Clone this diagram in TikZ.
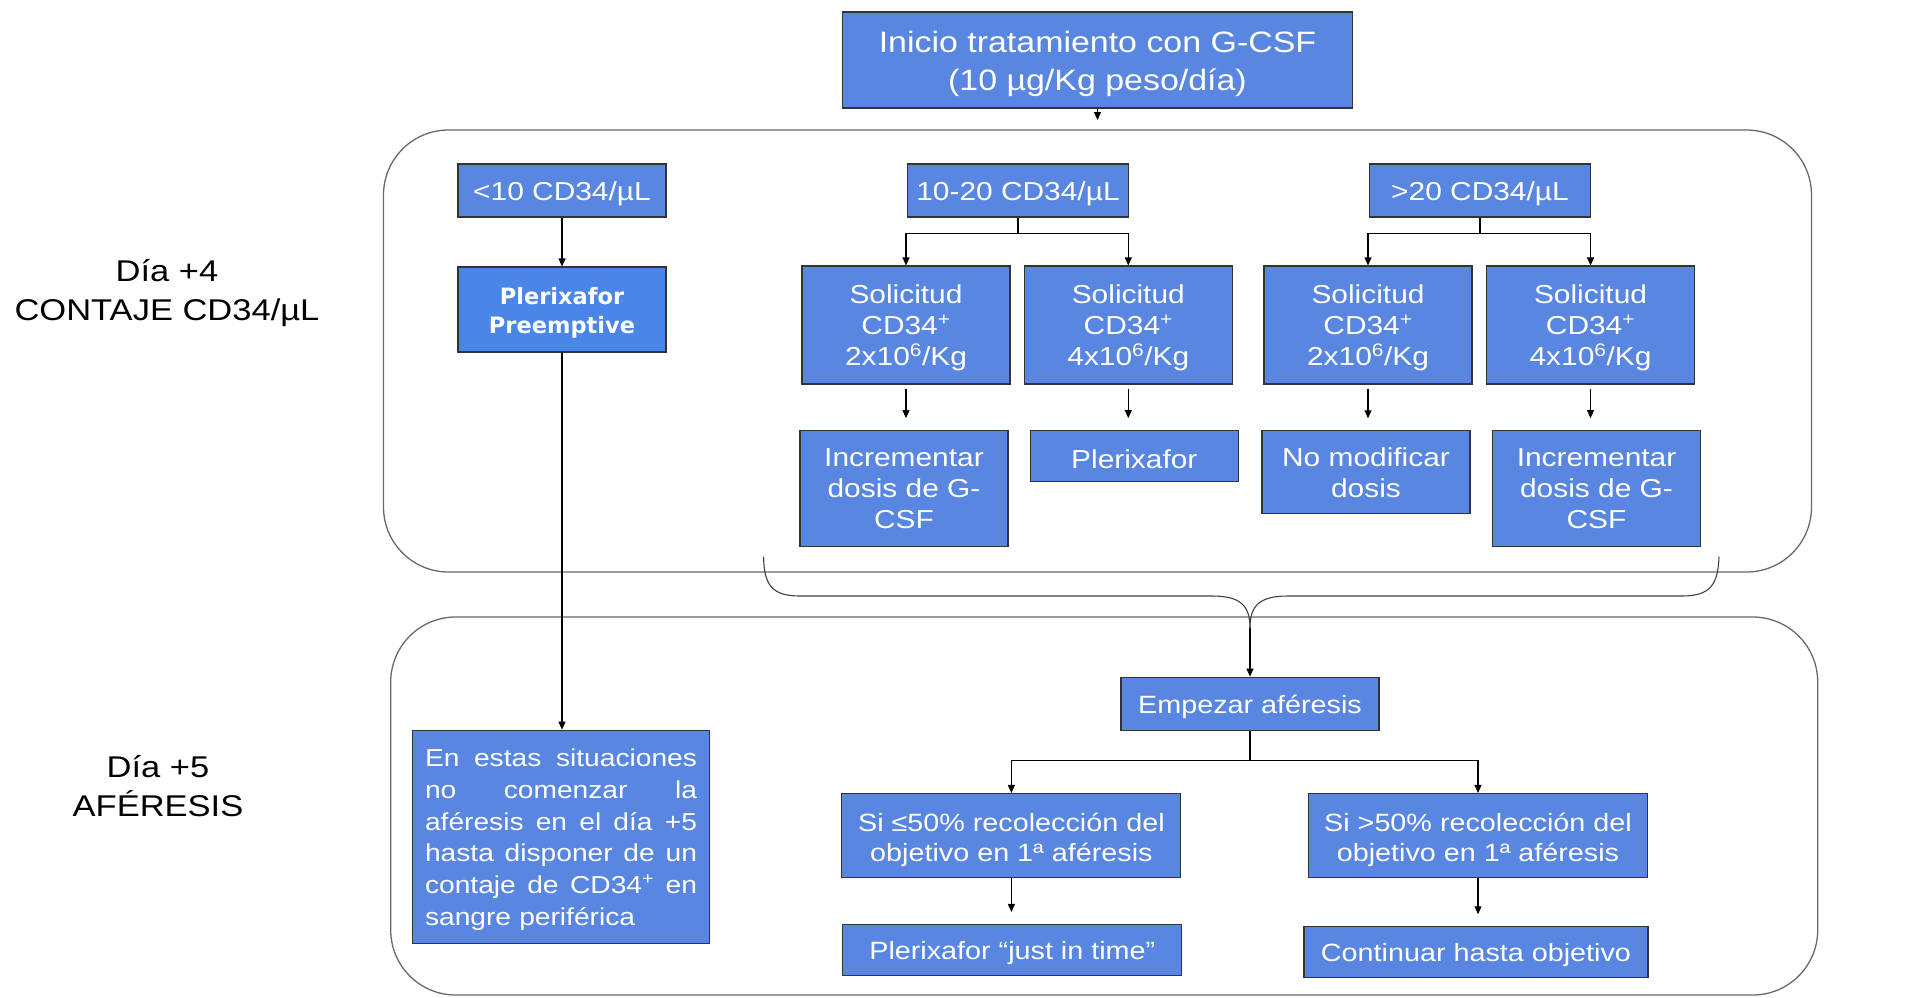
\documentclass[tikz,border=0pt]{standalone}
\usepackage{fontspec}
\setmainfont{Liberation Sans}[FakeStretch=1.15]
\newfontfamily\boldsans{DejaVu Sans}
\usepackage{tikz}
\usetikzlibrary{positioning,arrows.meta}
\definecolor{boxblue}{RGB}{89,134,225}
\definecolor{preblue}{RGB}{74,134,232}
\definecolor{framegray}{RGB}{105,105,105}

\begin{document}
\begin{tikzpicture}[x=1pt, y=-1pt,
  bluebox/.style={draw=black!80, line width=1.1pt, fill=boxblue, text=white, align=center, inner sep=0pt, font=\fontsize{26}{31}\selectfont,
    execute at begin node={\rule{0pt}{\dimexpr0.73em+6pt\relax}}},
  stagebox/.style={draw=framegray, line width=1.3pt, rounded corners=65pt},
  arr/.style={-{Triangle[length=8pt,width=7pt]}, line width=1.1pt},
  lbl/.style={align=center, font=\fontsize{30}{38.5}\selectfont}]
  \useasboundingbox (0,0) rectangle (1909,997);

  % stages
  \node[stagebox, minimum width=1428pt, minimum height=442pt] (day4) at (1097.5,351) {};
  \node[stagebox, minimum width=1427pt, minimum height=378pt] (day5) at (1104.2,806) {};
  \node[lbl] (d4) at (167,293) {Día +4\\CONTAJE CD34/µL};
  \node[lbl] (d5) at (158,786) {Día +5\\AFÉRESIS};

  % nodes
  \node[bluebox, minimum width=510pt, minimum height=96pt, font=\fontsize{29.5}{38}\selectfont] (start) at (1097.5,60) {\rule{0pt}{29pt}Inicio tratamiento con G-CSF\\(10 µg/Kg peso/día)};
  \coordinate (startend) at (1097.5,120);

  \node[bluebox, minimum width=208pt, minimum height=53pt] (low) at (562,190.5) {<10 CD34/µL};
  \node[bluebox, minimum width=221pt, minimum height=53pt] (mid) at (1018,190.5) {10-20 CD34/µL};
  \node[bluebox, minimum width=221pt, minimum height=53pt] (high) at (1480,190.5) {>20 CD34/µL};

  \node[bluebox, fill=preblue, minimum width=208pt, minimum height=85pt, font=\boldsans\bfseries\fontsize{22.5}{29}\selectfont] (pre) at (562,309.5) {\rule{0pt}{24pt}Plerixafor\\Preemptive};
  \node[bluebox, minimum width=208pt, minimum height=118pt] (solA) at (906,325) {\rule{0pt}{25pt}Solicitud\\CD34\textsuperscript{+}\\2x10\textsuperscript{6}/Kg};
  \node[bluebox, minimum width=208pt, minimum height=118pt] (solB) at (1128.3,325) {\rule{0pt}{25pt}Solicitud\\CD34\textsuperscript{+}\\4x10\textsuperscript{6}/Kg};
  \node[bluebox, minimum width=208pt, minimum height=118pt] (solC) at (1368,325) {\rule{0pt}{25pt}Solicitud\\CD34\textsuperscript{+}\\2x10\textsuperscript{6}/Kg};
  \node[bluebox, minimum width=208pt, minimum height=118pt] (solD) at (1590.5,325) {\rule{0pt}{25pt}Solicitud\\CD34\textsuperscript{+}\\4x10\textsuperscript{6}/Kg};

  \node[bluebox, minimum width=208pt, minimum height=116pt] (incA) at (904,488.7) {Incrementar\\dosis de G-\\CSF};
  \node[bluebox, minimum width=208pt, minimum height=51pt, execute at begin node={}] (plx) at (1134.3,456.2) {Plerixafor};
  \node[bluebox, minimum width=208pt, minimum height=83pt] (nomod) at (1366,472.3) {No modificar\\dosis};
  \node[bluebox, minimum width=208pt, minimum height=116pt] (incB) at (1596.5,488.7) {Incrementar\\dosis de G-\\CSF};

  \node[bluebox, minimum width=258pt, minimum height=53pt, font=\fontsize{25}{30}\selectfont] (aph) at (1250,703.7) {Empezar aféresis};
  \node[bluebox, minimum width=339pt, minimum height=84pt, font=\fontsize{25}{30}\selectfont] (lowc) at (1011.4,835.5) {\rule{0pt}{27pt}Si ≤50\% recolección del\\objetivo en 1ª aféresis};
  \node[bluebox, minimum width=339pt, minimum height=84pt, font=\fontsize{25}{30}\selectfont] (highc) at (1478,835.5) {\rule{0pt}{27pt}Si >50\% recolección del\\objetivo en 1ª aféresis};
  \node[bluebox, minimum width=339pt, minimum height=51pt, font=\fontsize{25}{30}\selectfont] (jit) at (1012.3,950) {Plerixafor “just in time”};
  \node[bluebox, minimum width=344pt, minimum height=51pt, font=\fontsize{25}{30}\selectfont] (cont) at (1476,952.3) {Continuar hasta objetivo};

  \node[bluebox, minimum width=297pt, minimum height=213pt, text width=272pt, align=left, font=\fontsize{24.5}{31.7}\selectfont] (wait) at (561,836.7) {\makebox[272pt]{En\hfill estas\hfill situaciones}\\\makebox[272pt]{no\hfill comenzar\hfill la}\\\makebox[272pt]{aféresis\hfill en\hfill el\hfill día\hfill +5}\\\makebox[272pt]{hasta\hfill disponer\hfill de\hfill un}\\\makebox[272pt]{contaje\hfill de\hfill CD34\textsuperscript{+}\hfill en}\\sangre periférica};

  % brace
  \coordinate (braceL) at (763.6,556.7);
  \coordinate (braceR) at (1719,556.7);
  \coordinate (braceTip) at (1250,628);
  \draw[line width=1.1pt, draw=black!75] (braceL) .. controls (764,585) and (772,596) .. (800,596) -- (1212,596) .. controls (1241,596) and (1250,606) .. (braceTip);
  \draw[line width=1.1pt, draw=black!75] (braceR) .. controls (1718,585) and (1710,596) .. (1682,596) -- (1288,596) .. controls (1259,596) and (1250,606) .. (braceTip);

  % edges
  \draw[arr] (start.south) -- (startend);
  \draw[arr] (low) -- (pre);
  \draw[arr] (pre.south) -- (pre.south |- wait.north);

  \draw[line width=1.1pt] (mid.south) -- ++(0,16) coordinate (midfork);
  \draw[arr] (midfork) -| (solA.north);
  \draw[arr] (midfork) -| (solB.north);
  \draw[line width=1.1pt] (high.south) -- ++(0,16) coordinate (highfork);
  \draw[arr] (highfork) -| (solC.north);
  \draw[arr] (highfork) -| (solD.north);

  \draw[arr, shorten <=4pt, shorten >=12pt] (solA.south) -- (solA.south |- incA.north);
  \draw[arr, shorten <=4pt, shorten >=12pt] (solB.south) -- (solB.south |- plx.north);
  \draw[arr, shorten <=4pt, shorten >=12pt] (solC.south) -- (solC.south |- nomod.north);
  \draw[arr, shorten <=4pt, shorten >=12pt] (solD.south) -- (solD.south |- incB.north);

  \draw[arr] (braceTip) -- (aph.north);
  \draw[line width=1.1pt] (aph.south) -- ++(0,30) coordinate (aphfork);
  \draw[arr] (aphfork) -| (lowc.north);
  \draw[arr] (aphfork) -| (highc.north);
  \draw[arr, shorten >=12pt] (lowc.south) -- (lowc.south |- jit.north);
  \draw[arr, shorten >=12pt] (highc.south) -- (highc.south |- cont.north);
\end{tikzpicture}
\end{document}
